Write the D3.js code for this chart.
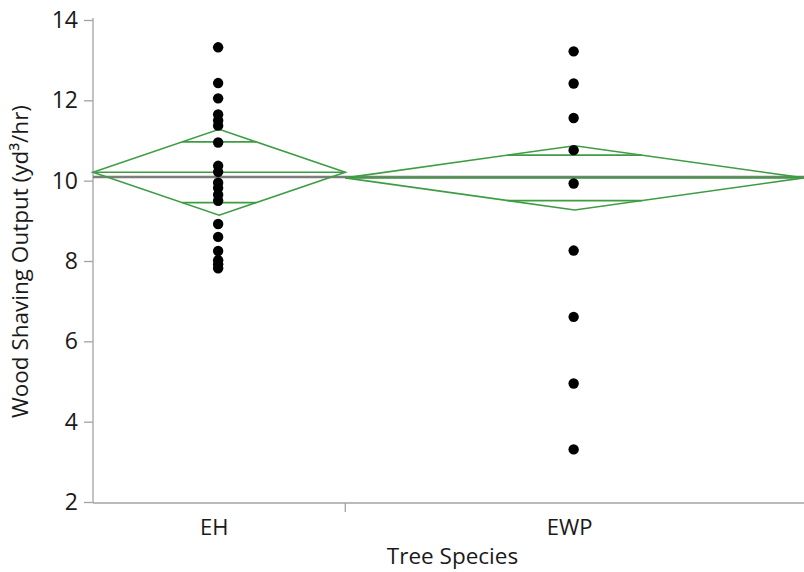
<!DOCTYPE html>
<html>
<head>
<meta charset="utf-8">
<script src="https://cdn.jsdelivr.net/npm/d3@7"></script>
<style>
  body { margin: 0; background: #fff; }
  text { font-family: "Open Sans", "Noto Sans", sans-serif; fill: #1a1a1a; }
</style>
</head>
<body>
<script>
// groups and their sample sizes (widths of the diamonds follow n)
const categories = ['EH', 'EWP'];
const sampleSizes = [22, 40];

const ehValues = [13.32, 12.43, 12.05, 11.65, 11.5, 11.37, 10.95,
                  10.37, 10.22, 9.95, 9.82, 9.65, 9.5,
                  8.92, 8.6, 8.25, 8.02, 7.92, 7.82];
const ewpValues = [13.22, 12.42, 11.56, 10.76, 9.93, 8.26, 6.61, 4.95, 3.31];

// means diamonds
const groupMeans = [10.21, 10.07];
const ciLow = [9.14, 9.27];
const ciHigh = [11.28, 10.87];
const grandMean = 10.09;

const yTicks = [2, 4, 6, 8, 10, 12, 14];

const width = 804, height = 572;
const margin = { top: 20, right: 0, bottom: 69, left: 93 };

const svg = d3.select('body').append('svg')
    .attr('width', width)
    .attr('height', height);

const total = d3.sum(sampleSizes);
const x = d3.scaleLinear()
    .domain([0, total])
    .range([margin.left, width - margin.right]);

const y = d3.scaleLinear()
    .domain([2, 14])
    .range([height - margin.bottom - 1, margin.top]);

const starts = sampleSizes.map((n, i) => d3.sum(sampleSizes.slice(0, i)));
const groups = categories.map((c, i) => ({
    name: c,
    x0: x(starts[i]),
    x1: x(starts[i] + sampleSizes[i]),
    xc: x(starts[i] + sampleSizes[i] / 2),
    mean: groupMeans[i],
    lo: ciLow[i],
    hi: ciHigh[i],
    values: i === 0 ? ehValues : ewpValues
}));

const axisColor = '#a3a3a3';
const green = '#3e9d43';

// y axis
const yAxis = svg.append('g')
    .attr('transform', `translate(${margin.left},0)`)
    .call(d3.axisLeft(y).tickValues(yTicks).tickSize(9).tickPadding(6));
yAxis.attr('font-size', null).attr('font-family', null);
yAxis.select('.domain').attr('stroke', axisColor).attr('stroke-width', 1.3)
    .attr('d', `M0,${margin.top - 2}V${y(2) + 1}`);
yAxis.selectAll('.tick line').attr('stroke', axisColor).attr('stroke-width', 1.3);
yAxis.selectAll('.tick text')
    .style('font-size', '23px')
    .attr('fill', '#1a1a1a');

// x axis
const xBase = y(2) + 1;
svg.append('line')
    .attr('x1', margin.left).attr('x2', width)
    .attr('y1', xBase).attr('y2', xBase)
    .attr('stroke', axisColor).attr('stroke-width', 1.3);
svg.selectAll('.xdiv')
    .data(groups.slice(1))
    .join('line')
    .attr('x1', d => d.x0).attr('x2', d => d.x0)
    .attr('y1', xBase).attr('y2', xBase + 9)
    .attr('stroke', axisColor).attr('stroke-width', 1.3);
svg.selectAll('.xlab')
    .data(groups)
    .join('text')
    .attr('x', d => d.xc - 5)
    .attr('y', xBase + 32)
    .attr('text-anchor', 'middle')
    .style('font-size', '22px')
    .text(d => d.name);

// axis titles
svg.append('text')
    .attr('transform', `translate(28,${(margin.top + xBase) / 2}) rotate(-90)`)
    .attr('text-anchor', 'middle')
    .style('font-size', '22.5px')
    .text('Wood Shaving Output (yd³/hr)');
svg.append('text')
    .attr('x', (margin.left + width) / 2 + 4)
    .attr('y', 564)
    .attr('text-anchor', 'middle')
    .style('font-size', '22.5px')
    .text('Tree Species');

// grand mean line
svg.append('line')
    .attr('x1', margin.left).attr('x2', width)
    .attr('y1', y(grandMean)).attr('y2', y(grandMean))
    .attr('stroke', '#7d7d7d').attr('stroke-width', 2.5);

// diamonds
const dg = svg.append('g').attr('fill', 'none').attr('stroke', green).attr('stroke-width', 1.6);
groups.forEach(g => {
    dg.append('path')
        .attr('d', `M${g.x0},${y(g.mean)}L${g.xc},${y(g.hi)}L${g.x1},${y(g.mean)}L${g.xc},${y(g.lo)}Z`);
    dg.append('line')
        .attr('x1', g.x0).attr('x2', g.x1)
        .attr('y1', y(g.mean)).attr('y2', y(g.mean));
    // overlap marks
    const half = (g.hi - g.mean) / Math.SQRT2;
    const frac = 1 - 1 / Math.SQRT2;
    const hw = (g.x1 - g.x0) / 2 * frac;
    [g.mean + half, g.mean - half].forEach(v => {
        dg.append('line')
            .attr('x1', g.xc - hw).attr('x2', g.xc + hw)
            .attr('y1', y(v)).attr('y2', y(v));
    });
});

// points
groups.forEach(g => {
    svg.append('g').selectAll('circle')
        .data(g.values)
        .join('circle')
        .attr('cx', g.xc - 1)
        .attr('cy', d => y(d))
        .attr('r', 5.2)
        .attr('fill', '#000');
});
</script>
</body>
</html>
